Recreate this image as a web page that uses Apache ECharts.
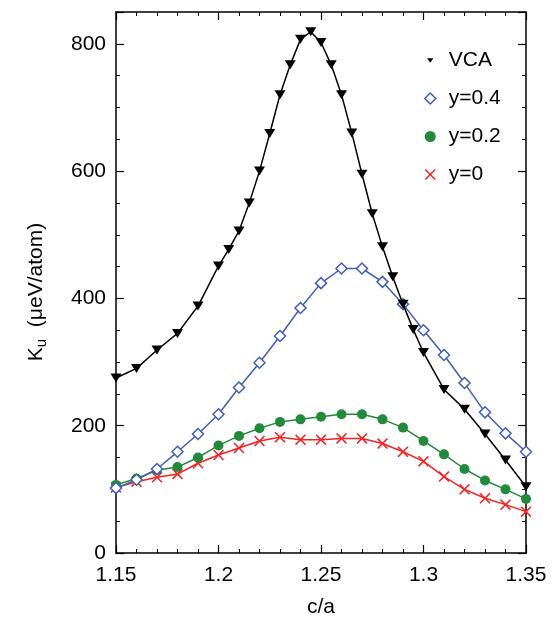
<!DOCTYPE html>
<html>
<head>
<meta charset="utf-8">
<script src="https://cdn.jsdelivr.net/npm/echarts@6/dist/echarts.min.js"></script>
<style>
  html, body { margin: 0; padding: 0; background: #fff; }
  #chart { width: 554px; height: 625px; }
</style>
</head>
<body>
<div id="chart"></div>
<script>
// c/a values
const vcaX = [1.15, 1.16, 1.17, 1.18, 1.19, 1.20, 1.205, 1.21, 1.215, 1.22, 1.225, 1.23, 1.235, 1.24, 1.245,
  1.25, 1.255, 1.26, 1.265, 1.27, 1.275, 1.28, 1.285, 1.29, 1.295, 1.30, 1.31, 1.32, 1.33, 1.34, 1.35];
const vcaY = [275, 290, 319, 345, 388, 451, 477, 506, 550, 600, 659, 720, 767, 807, 819,
  802, 767, 720, 660, 595, 533, 481, 434, 391, 351, 315, 257, 226, 187, 146, 104];

const caX = [1.15, 1.16, 1.17, 1.18, 1.19, 1.20, 1.21, 1.22, 1.23, 1.24, 1.25,
  1.26, 1.27, 1.28, 1.29, 1.30, 1.31, 1.32, 1.33, 1.34, 1.35];
const y04 = [102, 115, 132, 159, 187, 218, 260, 299, 341, 385, 424, 447, 447, 426, 391, 350, 311, 267, 221, 188, 159];
const y02 = [107, 117, 130, 135, 150, 169, 184, 196, 206, 210, 214, 218, 218, 210, 197, 176, 155, 132, 114, 100, 85];
const y00 = [103, 112, 119, 124, 141, 154, 165, 176, 182, 178, 178, 180, 180, 172, 159, 144, 120, 100, 86, 76, 65];

const xTicks = ['1.15', '1.2', '1.25', '1.3', '1.35'];
const seriesNames = ['VCA', 'y=0.4', 'y=0.2', 'y=0'];

const FONT = 'Liberation Sans, Arial, Helvetica, sans-serif';
const BLUE = '#3f5fb4';
const GREEN = '#23893c';
const RED = '#f52222';

const crossPath = 'path://M0,1L1,0L5,4L9,0L10,1L6,5L10,9L9,10L5,6L1,10L0,9L4,5Z';
const triDown = 'path://M0,0L10,0L5,8Z';
// smaller triangle for the legend, padded with empty moves
const triDownSmall = 'path://M0,0M14,14M3,4L11,4L7,10Z';

const zip = (xs, ys) => xs.map((x, i) => [x, ys[i]]);

const chart = echarts.init(document.getElementById('chart'));

const axisLine = { show: true, onZero: false, lineStyle: { color: '#000', width: 1.5 } };
const majorTick = { show: true, inside: true, length: 8, lineStyle: { color: '#000', width: 1.2 } };

chart.setOption({
  animation: false,
  grid: { left: 116, right: 28, top: 12, bottom: 72 },
  legend: {
    orient: 'vertical',
    left: 419,
    top: 45,
    itemWidth: 11,
    itemHeight: 11,
    itemGap: 17,
    textStyle: { fontFamily: FONT, fontSize: 21, color: '#000', padding: [0, 0, 0, 8] },
    data: [
      { name: seriesNames[0], icon: triDownSmall, itemStyle: { color: '#000' } },
      { name: seriesNames[1], icon: 'diamond', itemStyle: { color: '#fff', borderColor: BLUE, borderWidth: 1.5 } },
      { name: seriesNames[2], icon: 'circle', itemStyle: { color: GREEN } },
      { name: seriesNames[3], icon: crossPath, itemStyle: { color: RED } }
    ]
  },
  xAxis: [{
    type: 'value',
    min: 1.15,
    max: 1.35,
    interval: 0.05,
    axisLine: axisLine,
    axisTick: majorTick,
    minorTick: { show: true, splitNumber: 5, length: 4, lineStyle: { color: '#000', width: 1 } },
    splitLine: { show: false },
    axisLabel: {
      fontFamily: FONT, fontSize: 21, color: '#000', margin: 12,
      formatter: function (v) {
        const s = (Math.round(v * 100) / 100).toString();
        return xTicks.indexOf(s) >= 0 ? s : '';
      }
    },
    name: 'c/a',
    nameLocation: 'middle',
    nameGap: 44,
    nameTextStyle: { fontFamily: FONT, fontSize: 21, color: '#000' }
  }, {
    type: 'value',
    position: 'top',
    min: 1.15,
    max: 1.35,
    interval: 0.05,
    axisLine: axisLine,
    axisTick: majorTick,
    minorTick: { show: true, splitNumber: 5, length: 4, lineStyle: { color: '#000', width: 1 } },
    splitLine: { show: false },
    axisLabel: { show: false }
  }],
  yAxis: [{
    type: 'value',
    min: 0,
    max: 850,
    interval: 200,
    axisLine: axisLine,
    axisTick: majorTick,
    minorTick: { show: true, splitNumber: 4, length: 4, lineStyle: { color: '#000', width: 1 } },
    splitLine: { show: false },
    axisLabel: {
      fontFamily: FONT, fontSize: 21, color: '#000', margin: 10, showMaxLabel: false,
      formatter: function (v) { return v % 200 === 0 ? String(v) : ''; }
    }
  }, {
    type: 'value',
    position: 'right',
    min: 0,
    max: 850,
    interval: 200,
    axisLine: axisLine,
    axisTick: majorTick,
    minorTick: { show: true, splitNumber: 4, length: 4, lineStyle: { color: '#000', width: 1 } },
    splitLine: { show: false },
    axisLabel: { show: false }
  }],
  graphic: [{
    type: 'text',
    x: 36,
    y: 292,
    rotation: Math.PI / 2,
    style: {
      text: '{a|K}{s|u}{a|  (μeV/atom)}',
      align: 'center',
      verticalAlign: 'middle',
      fill: '#000',
      rich: {
        a: { fontFamily: FONT, fontSize: 21, fill: '#000' },
        s: { fontFamily: FONT, fontSize: 15, fill: '#000', padding: [12, 0, 0, 0] }
      }
    }
  }],
  series: [{
    name: seriesNames[0],
    type: 'line',
    data: zip(vcaX, vcaY),
    symbol: triDown,
    symbolSize: [11, 9],
    lineStyle: { color: '#000', width: 1.5 },
    itemStyle: { color: '#000' },
    z: 5
  }, {
    name: seriesNames[1],
    type: 'line',
    data: zip(caX, y04),
    symbol: 'diamond',
    symbolSize: 11,
    lineStyle: { color: BLUE, width: 1.5 },
    itemStyle: { color: '#fff', borderColor: BLUE, borderWidth: 1.5 },
    z: 4
  }, {
    name: seriesNames[2],
    type: 'line',
    data: zip(caX, y02),
    symbol: 'circle',
    symbolSize: 10,
    lineStyle: { color: GREEN, width: 1.5 },
    itemStyle: { color: GREEN },
    z: 3
  }, {
    name: seriesNames[3],
    type: 'line',
    data: zip(caX, y00),
    symbol: crossPath,
    symbolSize: 11,
    lineStyle: { color: RED, width: 1.5 },
    itemStyle: { color: RED },
    z: 2
  }]
});
</script>
</body>
</html>
